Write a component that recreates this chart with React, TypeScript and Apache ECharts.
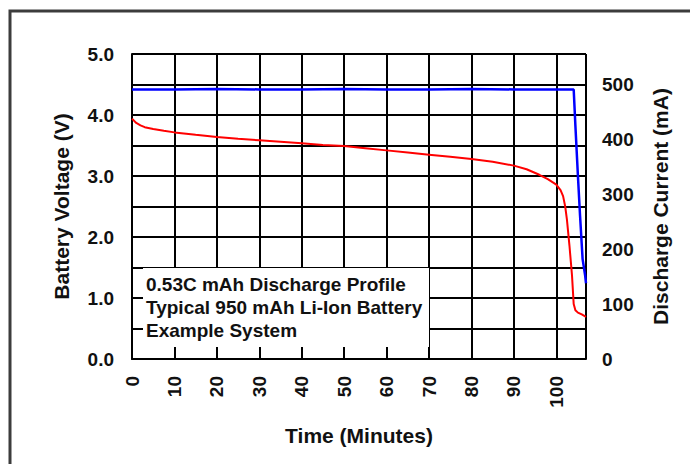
import React, { useEffect, useRef } from "react";
import * as echarts from "echarts";

// Time axis ticks (minutes)
const timeTicks = [0, 10, 20, 30, 40, 50, 60, 70, 80, 90, 100];
const timeMax = 107;

// Battery voltage (V) vs time (min)
const voltageTime = [0, 1, 2, 3, 5, 7.5, 10, 15, 20, 25, 30, 35, 40, 45, 50, 55, 60, 65, 70, 75, 80, 85, 90, 93, 96, 98, 100, 101, 101.6, 102.1, 102.5, 103.1, 103.7, 104.1, 104.5, 105.1, 106, 107];
const voltageValues = [3.94, 3.87, 3.83, 3.8, 3.77, 3.74, 3.715, 3.675, 3.64, 3.61, 3.585, 3.56, 3.535, 3.51, 3.49, 3.455, 3.42, 3.385, 3.35, 3.315, 3.28, 3.235, 3.17, 3.11, 3.02, 2.95, 2.86, 2.77, 2.67, 2.5, 2.29, 1.86, 1.37, 0.9, 0.8, 0.76, 0.73, 0.69];

// Discharge current (mA) vs time (min)
const currentTime = [0, 10, 20, 30, 40, 50, 60, 70, 80, 90, 100, 104.1, 104.5, 105.1, 105.6, 106.2, 106.8, 107];
const currentValues = [491, 491, 492, 491, 491, 492, 491, 491, 492, 491, 491, 491, 425, 333, 261, 182, 152, 138];

// Axis ranges
const voltageMax = 5;
const currentLabelMax = 500;

const noteLines = [
  "0.53C mAh Discharge Profile",
  "Typical 950 mAh Li-Ion Battery",
  "Example System",
];

const FONT = "'Liberation Sans', Arial, Helvetica, sans-serif";

export default function App() {
  const ref = useRef<HTMLDivElement>(null);

  useEffect(() => {
    if (!ref.current) return;
    const chart = echarts.init(ref.current, null, { renderer: "svg" });

    const gridLeft = 132;
    const gridTop = 54;
    const gridRight = 104;
    const gridBottom = 105;

    const labelStyle = {
      color: "#111",
      fontFamily: FONT,
      fontWeight: "bold" as const,
      fontSize: 19,
    };
    const nameStyle = {
      color: "#111",
      fontFamily: FONT,
      fontWeight: "bold" as const,
      fontSize: 21,
    };
    const gridLine = { show: true, lineStyle: { color: "#000", width: 2 } };

    const option: any = {
      animation: false,
      backgroundColor: "#fff",
      grid: { left: gridLeft, top: gridTop, right: gridRight, bottom: gridBottom, containLabel: false },
      xAxis: {
        type: "value",
        min: 0,
        max: timeMax,
        interval: 10,
        name: "Time (Minutes)",
        nameLocation: "middle",
        nameGap: 66,
        nameTextStyle: nameStyle,
        axisLine: { show: true, lineStyle: { color: "#000", width: 2 } },
        axisTick: { show: false },
        splitLine: gridLine,
        axisLabel: {
          ...labelStyle,
          rotate: 90,
          margin: 17,
          showMaxLabel: false,
          formatter: (v: number) => (timeTicks.includes(v) ? String(v) : ""),
        },
      },
      yAxis: [
        {
          type: "value",
          min: 0,
          max: voltageMax,
          interval: 0.5,
          name: "Battery Voltage (V)",
          nameLocation: "middle",
          nameGap: 60,
          nameRotate: 90,
          nameTextStyle: nameStyle,
          axisLine: { show: true, lineStyle: { color: "#000", width: 2 } },
          axisTick: { show: false },
          splitLine: gridLine,
          axisLabel: {
            ...labelStyle,
            margin: 18,
            formatter: (v: number) => (Math.abs(v - Math.round(v)) < 1e-6 ? v.toFixed(1) : ""),
          },
        },
        {
          type: "value",
          min: 0,
          max: (currentLabelMax * voltageMax) / 4.5,
          interval: 100,
          name: "Discharge Current (mA)",
          nameLocation: "middle",
          nameGap: 64,
          nameRotate: 90,
          nameTextStyle: nameStyle,
          axisLine: { show: false },
          axisTick: { show: false },
          splitLine: { show: false },
          axisLabel: {
            ...labelStyle,
            margin: 16,
            showMaxLabel: false,
            formatter: (v: number) => (v % 100 === 0 && v <= currentLabelMax ? String(v) : ""),
          },
        },
      ],
      series: [
        {
          name: "Current",
          type: "line",
          yAxisIndex: 1,
          showSymbol: false,
          data: currentTime.map((t, i) => [t, currentValues[i]]),
          lineStyle: { color: "#0000ff", width: 2.5 },
          z: 5,
        },
        {
          name: "Voltage",
          type: "line",
          yAxisIndex: 0,
          showSymbol: false,
          data: voltageTime.map((t, i) => [t, voltageValues[i]]),
          lineStyle: { color: "#ff0000", width: 2 },
          z: 6,
        },
      ],
    };

    chart.setOption(option);

    // Note box inside the plot (layout annotation)
    const boxLeft = 143;
    const boxTop = 268;
    const boxRight = 429;
    const boxBottom = 347;
    chart.setOption({
      graphic: [
        {
          type: "polyline",
          shape: { points: [[10, 470], [10, 11], [700, 11]] },
          style: { stroke: "#3c3c3c", lineWidth: 3, fill: null },
          z: 100,
        },
        {
          type: "rect",
          shape: { x: boxLeft, y: boxTop, width: boxRight - boxLeft, height: boxBottom - boxTop },
          style: { fill: "#fff", stroke: null },
          z: 100,
        },
        {
          type: "text",
          x: 146,
          y: 273,
          style: {
            text: noteLines.join("\n"),
            fill: "#111",
            font: `bold 19px ${FONT}`,
            lineHeight: 23,
          },
          z: 101,
        },
      ],
    });

    return () => chart.dispose();
  }, []);

  return (
    <div
      ref={ref}
      style={{ position: "fixed", left: 0, top: 0, width: 690, height: 464, background: "#fff" }}
    />
  );
}
